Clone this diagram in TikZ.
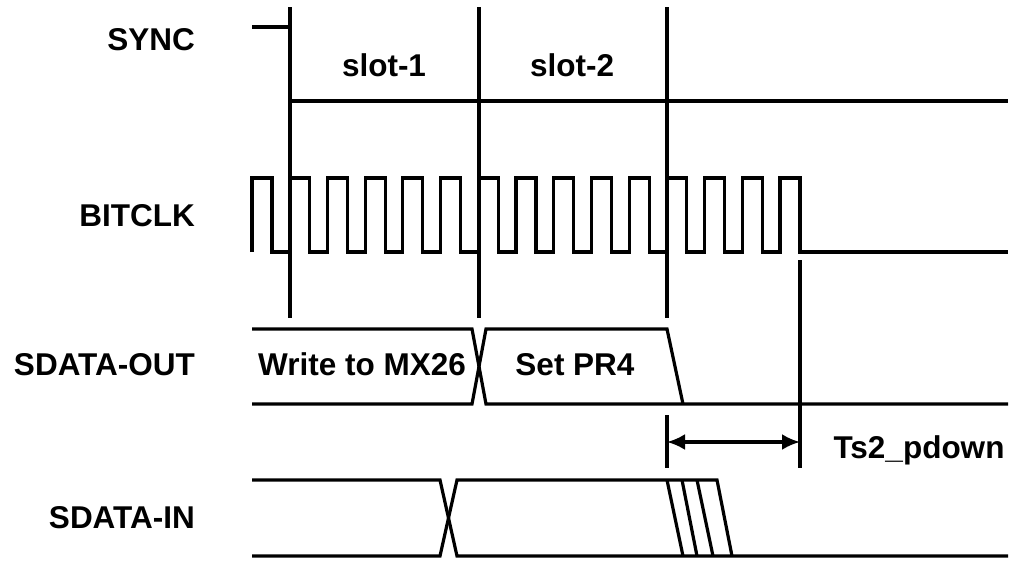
\documentclass[tikz,border=0pt]{standalone}
\usepackage{fontspec}
\setmainfont{Liberation Sans}
\usetikzlibrary{arrows.meta}
\begin{document}
\begin{tikzpicture}[x=1pt,y=-1pt,
  sig/.style={line width=3.2pt, line join=miter},
  lbl/.style={inner sep=0pt, font=\fontsize{31.5}{37}\selectfont\bfseries},
  dim/.style={line width=3.2pt, {Latex[length=18pt,width=16pt]}-{Latex[length=18pt,width=16pt]}}]
\useasboundingbox (0,0) rectangle (1011,560);
% labels
\node[lbl, anchor=base east] (lsync) at (195,50) {SYNC};
\node[lbl, anchor=base east] (lclk) at (195,226) {BITCLK};
\node[lbl, anchor=base east] (lout) at (195,375) {SDATA-OUT};
\node[lbl, anchor=base east] (lin) at (195,528) {SDATA-IN};
\node[lbl, anchor=base] (s1) at (384,76) {slot-1};
\node[lbl, anchor=base] (s2) at (572,76) {slot-2};
\node[lbl, anchor=base] (w) at (362,375) {Write to MX26};
\node[lbl, anchor=base] (p) at (575,375) {Set PR4};
\node[lbl, anchor=base] (ts) at (919,458) {Ts2\_pdown};
% slot lines
\draw[sig] (290,7) -- (290,318);
\draw[sig] (479,7) -- (479,318);
\draw[sig] (667,7) -- (667,318);
\draw[sig] (667,415) -- (667,468);
\draw[sig] (800,260) -- (800,468);
% SYNC
\draw[sig] (252,27) -- (290,27);
\draw[sig] (290,101) -- (1008,101);
% BITCLK
\draw[sig] (252,252) \foreach \k in {0,...,14}{
  -- ({252+37.71*\k},178) -- ({272+37.71*\k},178) -- ({272+37.71*\k},252) -- ({252+37.71*(\k+1)},252) } -- (1008,252);
% SDATA-OUT
\draw[sig] (252,329) -- (472,329) -- (486,404) -- (1008,404);
\draw[sig] (252,404) -- (472,404) -- (486,329) -- (667,329) -- (683,404);
% arrow
\coordinate (a1) at (667,442);
\coordinate (a2) at (800,442);
\draw[dim] (a1) -- (a2);
% SDATA-IN
\draw[sig] (252,480) -- (440,480) -- (457,556) -- (1008,556);
\draw[sig] (252,556) -- (440,556) -- (457,480) -- (717,480) -- (732,556);
\draw[sig] (667,480) -- (683,556);
\draw[sig] (682,480) -- (697,556);
\draw[sig] (697,480) -- (713,556);
\end{tikzpicture}
\end{document}
